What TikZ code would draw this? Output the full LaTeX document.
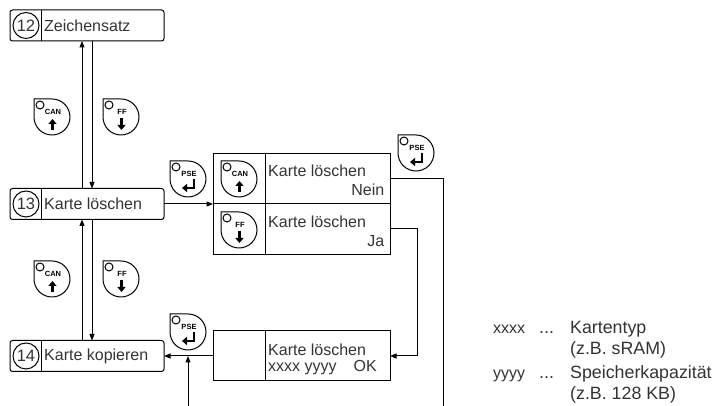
\documentclass[tikz,border=0pt]{standalone}
\usepackage{fontspec}
\setmainfont{Liberation Sans}
\usetikzlibrary{arrows.meta,positioning}

\begin{document}
\begin{tikzpicture}[x=1pt,y=1pt]
\tikzset{
  menubox/.style={draw=black,line width=1pt,rounded corners=2.5pt,minimum width=154pt,minimum height=31pt,inner sep=0pt,outer sep=0pt},
  numcircle/.style={circle,draw=black,line width=1pt,minimum size=26pt,inner sep=0pt,font=\fontsize{16.5}{18}\selectfont,text=black!80},
  menutext/.style={anchor=west,inner sep=0pt,font=\fontsize{16}{18}\selectfont,text=black!80},
  celltext/.style={inner sep=0pt,font=\fontsize{16}{18}\selectfont,text=black!80},
  legendtext/.style={anchor=base west,inner sep=0pt,font=\fontsize{17.8}{20}\selectfont,text=black!80},
  keycell/.style={draw=black,line width=1pt,minimum width=52pt,inner sep=0pt,outer sep=0pt},
  textcell/.style={draw=black,line width=1pt,minimum width=125pt,inner sep=0pt,outer sep=0pt},
  graphedge/.style={draw=black,line width=1pt},
  directed/.style={graphedge,-{Triangle[length=6.5pt,width=5pt]}},
  keyline/.style={draw=black,line width=1pt},
  keyglyph/.style={draw=black,line width=2.2pt,-{Triangle[length=5pt,width=8pt]}},
  keybody/.pic={
    \draw[keyline] (0,0) -- (18,0) arc[start angle=90,end angle=-180,radius=18] -- cycle;
    \draw[keyline,fill=white] (6,-6) circle[radius=4];
    \node[inner sep=0pt,font=\fontsize{7.5}{8}\selectfont\bfseries] (-label) at (19,-13) {#1};
  },
  keycan/.pic={
    \pic {keybody=CAN};
    \draw[keyglyph] (18.5,-31) -- (18.5,-20);
  },
  keyff/.pic={
    \pic {keybody=FF};
    \draw[keyglyph] (18.5,-19) -- (18.5,-31);
  },
  keypse/.pic={
    \pic {keybody=PSE};
    \draw[keyglyph] (24,-18) -- (24,-27) -- (12,-27);
  }
}
\useasboundingbox (0,0) rectangle (724,406);
% menu boxes
\node[menubox] (n_b12) at (87,380.5) {};
\node[menubox] (n_b13) at (87,202) {};
\node[menubox] (n_b14) at (87,50) {};
\draw[graphedge] (41,396) -- (41,365);
\draw[graphedge] (41,217.5) -- (41,186.5);
\draw[graphedge] (41,65.5) -- (41,34.5);
\node[numcircle] (n_c12) at (26,380.5) {12};
\node[numcircle] (n_c13) at (26,202) {13};
\node[numcircle] (n_c14) at (26,50) {14};
\node[menutext] (n_l12) at (44,380.5) {Zeichensatz};
\node[menutext] (n_l13) at (44,202) {Karte löschen};
\node[menutext] (n_l14) at (44,50) {Karte kopieren};
% table cells
\node[keycell,minimum height=50.5pt] (n_k1) at (239,227.25) {};
\node[textcell,minimum height=50.5pt] (n_t1) at (327.5,227.25) {};
\node[keycell,minimum height=50.5pt] (n_k2) at (239,176.75) {};
\node[textcell,minimum height=50.5pt] (n_t2) at (327.5,176.75) {};
\node[keycell,minimum height=50pt] (n_k3) at (239,50) {};
\node[textcell,minimum height=50pt] (n_t3) at (327.5,50) {};
\node[celltext,anchor=west] (n_a1) at (268,235) {Karte löschen};
\node[celltext,anchor=east] (n_a2) at (384.5,216) {Nein};
\node[celltext,anchor=west] (n_a3) at (268,184) {Karte löschen};
\node[celltext,anchor=east] (n_a4) at (384.5,165) {Ja};
\node[celltext,anchor=west] (n_a5) at (268,56.5) {Karte löschen};
\node[celltext,anchor=base west] (n_a6) at (268,34) {xxxx yyyy};
\node[celltext,anchor=base east] (n_a7) at (377,34) {OK};
% keys
\pic (k_can1) at (34,307) {keycan};
\pic (k_ff1) at (103,307) {keyff};
\pic (k_can2) at (34,145) {keycan};
\pic (k_ff2) at (103,145) {keyff};
\pic (k_pse1) at (170,245) {keypse};
\pic (k_can3) at (221,245) {keycan};
\pic (k_ff3) at (221,194) {keyff};
\pic (k_pse2) at (398,271) {keypse};
\pic (k_pse3) at (170,92) {keypse};
% connectors
\coordinate (x_up) at (82,0);
\coordinate (x_dn) at (92,0);
\coordinate (n_no) at (390.5,227);
\coordinate (n_yes) at (390.5,177);
\coordinate (n_off1) at (443,0);
\coordinate (n_off2) at (188,0);
\coordinate (n_join) at (188,50);
\draw[directed] (n_b13.north -| x_up) -- (n_b12.south -| x_up);
\draw[directed] (n_b12.south -| x_dn) -- (n_b13.north -| x_dn);
\draw[directed] (n_b14.north -| x_up) -- (n_b13.south -| x_up);
\draw[directed] (n_b13.south -| x_dn) -- (n_b14.north -| x_dn);
\draw[directed] (n_b13.east) -- (n_k1.south west);
\draw[graphedge] (n_no) -- ([xshift=52.5pt]n_no) -- (n_off1);
\draw[directed] (n_yes) -- ([xshift=26.5pt]n_yes) |- (n_t3.east);
\draw[directed] (n_k3.west) -- (n_b14.east);
\draw[directed] (n_off2) -- (n_join);
% legend
\node[legendtext] (n_x) at (493,72) {\fontsize{16}{18}\selectfont xxxx};
\node[legendtext] (n_xd) at (539,72) {.{}.{}.};
\node[legendtext] (n_x1) at (570,72) {Kartentyp};
\node[legendtext] (n_x2) at (570,51) {(z.B. sRAM)};
\node[legendtext] (n_y) at (493,27) {\fontsize{16}{18}\selectfont yyyy};
\node[legendtext] (n_yd) at (539,27) {.{}.{}.};
\node[legendtext] (n_y1) at (570,27) {Speicherkapazität};
\node[legendtext] (n_y2) at (570,6) {(z.B. 128 KB)};
\end{tikzpicture}
\end{document}
